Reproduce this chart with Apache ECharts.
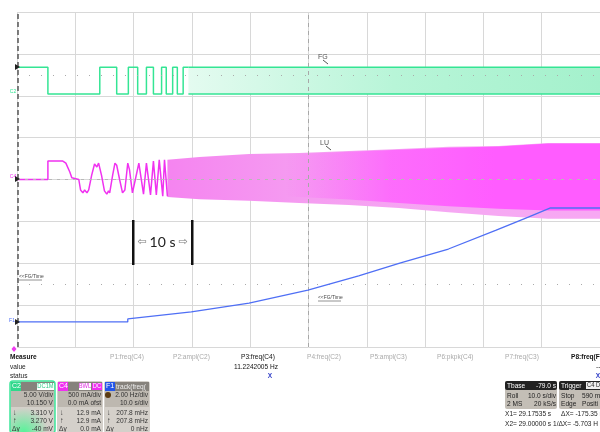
<!DOCTYPE html>
<html>
<head>
<meta charset="utf-8">
<script src="https://cdn.jsdelivr.net/npm/echarts@6/dist/echarts.min.js"></script>
<style>
  html, body { margin: 0; padding: 0; background: #fff; }
  #scope { width: 600px; height: 432px; }
</style>
</head>
<body>
<div id="scope"></div>
<script>
// time in seconds (10 s/div), level in screen divisions (0 = centre line)

// FG (C2) square wave: edge times and the level that starts at each edge
const fgEdges  = [0, 5.3, 14.2, 17.1, 19.1, 20.7, 22.2, 23.4, 24.8, 25.6, 26.7, 27.5, 28.5, 29.4];
const fgLevels = [2.68, 2.04, 2.68, 2.04, 2.68, 2.04, 2.68, 2.04, 2.68, 2.04, 2.68, 2.04, 2.68, 2.68];
// FG dense part (too fast to resolve): band limits
const fgBandT   = [29.4, 100];
const fgBandTop = [2.68, 2.68];
const fgBandBot = [2.04, 2.04];

// LU (C4) current, resolved start
const luT = [0, 5.3, 5.3, 7.86, 8.38, 9.06, 9.4, 10.6, 10.9, 11.3, 11.6, 12.0, 12.3, 12.8, 13.3, 13.7, 14.0,
             14.5, 15.0, 15.4, 15.7, 15.9, 16.4, 16.8, 17.1, 17.6, 18.1, 18.5, 19.0, 19.3, 19.8, 20.3, 20.9,
             21.7, 22.2, 22.9, 23.4, 23.9, 24.4, 25.0, 25.3, 25.8];
const luV = [0, 0, 0.44, 0.44, 0.39, 0.18, 0.04, 0, -0.25, -0.32, -0.25, -0.32, -0.25, 0.1, 0.37, 0.3, 0.39,
             0.1, -0.27, -0.35, -0.27, -0.32, 0.1, 0.39, 0.34, 0, -0.32, -0.25, 0.39, 0.23, -0.32, 0, 0.39,
             -0.35, 0.39, -0.37, 0.44, -0.37, 0.47, -0.4, 0.47, -0.4];
// LU dense envelope
const luBandT   = [25.8, 31.3, 39.8, 48.4, 56.9, 65.5, 74.0, 82.6, 91.1, 100];
const luBandTop = [0.47, 0.54, 0.61, 0.63, 0.68, 0.73, 0.78, 0.80, 0.87, 0.87];
const luBandBot = [-0.42, -0.47, -0.51, -0.56, -0.61, -0.68, -0.78, -0.87, -0.94, -0.94];
// LU saturated core
const luCoreT   = [46.0, 56.9, 65.5, 74.0, 82.6, 91.1, 100];
const luCoreTop = [0.60, 0.66, 0.71, 0.76, 0.79, 0.86, 0.86];
const luCoreBot = [-0.40, -0.48, -0.56, -0.64, -0.70, -0.74, -0.74];

// F1 = track(freq(FG))
const f1T = [-1, 0, 19.0, 19.0, 29.9, 39.8, 49.9, 58.6, 65.8, 74.0, 82.2, 87.7, 91.5, 100];
const f1V = [-3.47, -3.4, -3.4, -3.33, -3.16, -2.95, -2.64, -2.30, -1.99, -1.66, -1.21, -0.90, -0.68, -0.68];

const fgColor = '#34e594';
const luColor = '#f032f0';
const f1Color = '#4f6ff5';
const FONT = '"Liberation Sans", Arial';

function pairs(xs, ys) {
  return xs.map((x, i) => [x, ys[i]]);
}

function band(ts, tops, bots, fill) {
  return {
    type: 'custom',
    silent: true,
    clip: true,
    z: 3,
    data: [[ts[0], tops[0]]],
    renderItem: function (params, api) {
      const pts = [];
      for (let i = 0; i < ts.length; i++) pts.push(api.coord([ts[i], tops[i]]));
      for (let i = ts.length - 1; i >= 0; i--) pts.push(api.coord([ts[i], bots[i]]));
      return { type: 'polygon', shape: { points: pts }, style: { fill: fill } };
    }
  };
}

function hGrad(stops) {
  return new echarts.graphic.LinearGradient(0, 0, 1, 0, stops.map((c, i) => ({ offset: i / (stops.length - 1), color: c })));
}

// small scope text is condensed, so squeeze it horizontally
const txt = (text, x, y, opt, sx) => ({
  type: 'text', x: x, y: y, z: 100, scaleX: sx === undefined ? 0.82 : sx,
  style: Object.assign({ text: text, font: '8px ' + FONT, fill: '#222', textVerticalAlign: 'middle' }, opt || {})
});
const box = (x, y, w, h, fill, opt) => ({
  type: 'rect', z: 90, shape: Object.assign({ x: x, y: y, width: w, height: h }, opt && opt.r ? { r: opt.r } : {}),
  style: Object.assign({ fill: fill }, opt && opt.style ? opt.style : {})
});

function chanBox(x, w, rows, head) {
  const g = [];
  g.push(box(x, 381, w, 52, '#d4d0ca', { r: 3, style: { stroke: head.border, lineWidth: head.border === 'none' ? 0 : 1.5 } }));
  g.push(box(x + 1, 391, w - 2, 16, '#bdb8b0'));
  g.push(box(x + 1, 382, w - 2, 9, '#86827c'));
  g.push(box(x + 1, 382, 10, 9, head.color));
  g.push(txt(head.name, x + 2, 386.5, { fill: '#fff', font: '7px ' + FONT }, 1));
  if (head.extra) g.push(...head.extra);
  const ys = [395, 403, 413, 421, 429];
  rows.forEach((r, i) => {
    g.push(txt(r, x + w - 2, ys[i], { textAlign: 'right', fill: '#333' }));
  });
  g.push(txt('↓', x + 3, 413, { fill: '#333' }));
  g.push(txt('↑', x + 3, 421, { fill: '#333' }));
  g.push(txt('Δy', x + 2, 429, { fill: '#333' }));
  return g;
}

const graphics = [];
// trace labels
graphics.push(txt('FG', 318, 57, { font: '7px ' + FONT, fill: '#555' }, 1));
graphics.push({ type: 'line', z: 100, shape: { x1: 323, y1: 60, x2: 328, y2: 64 }, style: { stroke: '#555', lineWidth: 1 } });
graphics.push(txt('LU', 320, 143, { font: '7px ' + FONT, fill: '#555' }, 1));
graphics.push({ type: 'line', z: 100, shape: { x1: 326, y1: 146, x2: 331, y2: 150 }, style: { stroke: '#555', lineWidth: 1 } });
graphics.push(txt('<<FG/Time', 19, 276, { font: '6px ' + FONT, fill: '#444' }));
graphics.push({ type: 'line', z: 100, shape: { x1: 19, y1: 280, x2: 42, y2: 280 }, style: { stroke: '#777', lineWidth: 0.8 } });
graphics.push(txt('<<FG/Time', 318, 297, { font: '6px ' + FONT, fill: '#444' }));
graphics.push({ type: 'line', z: 100, shape: { x1: 318, y1: 301, x2: 341, y2: 301 }, style: { stroke: '#777', lineWidth: 0.8 } });
// channel markers on the left border
graphics.push(txt('C2', 13, 92, { font: '5px ' + FONT, fill: fgColor, textAlign: 'center' }, 1));
graphics.push(txt('C4', 13, 177, { font: '5px ' + FONT, fill: luColor, textAlign: 'center' }, 1));
graphics.push(txt('F1', 12, 321, { font: '5px ' + FONT, fill: f1Color, textAlign: 'center' }, 1));
[67, 179, 322].forEach(y => graphics.push({ type: 'polygon', z: 100, shape: { points: [[15, y - 3], [20, y], [15, y + 3]] }, style: { fill: '#222' } }));
graphics.push({ type: 'polygon', z: 100, shape: { points: [[14, 346], [16.5, 349], [14, 352], [11.5, 349]] }, style: { fill: '#f03cf0' } });

// 10 s annotation
graphics.push({ type: 'rect', z: 100, shape: { x: 132, y: 220, width: 2.5, height: 45 }, style: { fill: '#111' } });
graphics.push({ type: 'rect', z: 100, shape: { x: 191, y: 220, width: 2.5, height: 45 }, style: { fill: '#111' } });
graphics.push(txt('10 s', 162.5, 242, { font: '14px Lato, "Open Sans", sans-serif', fill: '#222', textAlign: 'center' }, 1));
graphics.push(txt('⇦', 142, 242, { font: '11px "DejaVu Sans"', fill: '#777', textAlign: 'center' }, 1));
graphics.push(txt('⇨', 183, 242, { font: '11px "DejaVu Sans"', fill: '#777', textAlign: 'center' }, 1));

// measurement strip
graphics.push(txt('Measure', 10, 357, { font: 'bold 8px ' + FONT, fill: '#111' }));
graphics.push(txt('value', 10, 366.5));
graphics.push(txt('status', 10, 375.5));
const pLabels = ['P1:freq(C4)', 'P2:ampl(C2)', 'P3:freq(C4)', 'P4:freq(C2)', 'P5:ampl(C3)', 'P6:pkpk(C4)', 'P7:freq(C3)', 'P8:freq(F6'];
const pX = [110, 173, 241, 307, 370, 437, 505, 571];
pLabels.forEach((p, i) => {
  const active = i === 2 || i === 7;
  graphics.push(txt(p, pX[i], 357, { fill: active ? '#111' : '#aaa', font: (i === 7 ? 'bold ' : '') + '8px ' + FONT }));
});
graphics.push(txt('11.2242005 Hz', 278, 366.5, { textAlign: 'right', fill: '#111' }));
graphics.push(txt('X', 270, 375.5, { textAlign: 'center', fill: '#3340c8', font: 'bold 8px ' + FONT }));
graphics.push(txt('---', 596, 366.5, { fill: '#111' }));
graphics.push(txt('X', 598, 375.5, { textAlign: 'center', fill: '#3340c8', font: 'bold 8px ' + FONT }));

// channel boxes
graphics.push(...chanBox(10, 45, ['5.00 V/div', '10.150 V', '3.310 V', '3.270 V', '-40 mV'], {
  name: 'C2', color: '#30d88c', border: '#3de69a',
  extra: [box(37, 383, 17, 7, '#fff'), txt('DC1M', 45.5, 386.5, { textAlign: 'center', fill: '#2cc884', font: '7px ' + FONT })]
}));
graphics.push({
  type: 'rect', z: 91, shape: { x: 11, y: 405, width: 43, height: 27 },
  style: { fill: new echarts.graphic.RadialGradient(0.3, 1, 0.9, [{ offset: 0, color: 'rgba(80,245,150,0.95)' }, { offset: 1, color: 'rgba(80,245,150,0)' }]) }
});
graphics.push(...chanBox(57, 46, ['500 mA/div', '0.0 mA ofst', '12.9 mA', '12.9 mA', '0.0 mA'], {
  name: 'C4', color: '#f030f0', border: 'none',
  extra: [box(79, 383, 12, 7, '#fff'), txt('BWL', 85, 386.5, { textAlign: 'center', fill: '#e030e0', font: '7px ' + FONT }),
          box(92, 383, 10, 7, '#f030f0'), txt('DC', 97, 386.5, { textAlign: 'center', fill: '#fff', font: '7px ' + FONT })]
}));
graphics.push(...chanBox(104, 46, ['2.00 Hz/div', '10.0 s/div', '207.8 mHz', '207.8 mHz', '0 nHz'], {
  name: 'F1', color: '#2456e8', border: 'none',
  extra: [txt('track(freq(', 116, 386.5, { fill: '#eee', font: '8px ' + FONT }),
          { type: 'circle', z: 100, shape: { cx: 108, cy: 395, r: 3 }, style: { fill: '#5a3a10' } }]
}));

// timebase / trigger boxes
graphics.push(box(505, 381, 52, 28, '#c3beb6', { r: 2 }));
graphics.push(box(505, 381, 52, 9, '#222', { r: 2 }));
graphics.push(txt('Tbase', 507, 385.5, { fill: '#fff' }));
graphics.push(txt('-79.0 s', 556, 385.5, { fill: '#fff', textAlign: 'right' }));
graphics.push(txt('Roll', 507, 396));
graphics.push(txt('10.0 s/div', 556, 396, { textAlign: 'right' }));
graphics.push(txt('2 MS', 507, 404));
graphics.push(txt('20 kS/s', 556, 404, { textAlign: 'right' }));
graphics.push(box(559, 381, 45, 28, '#c3beb6', { r: 2 }));
graphics.push(box(559, 381, 45, 9, '#222', { r: 2 }));
graphics.push(txt('Trigger', 561, 385.5, { fill: '#fff' }));
graphics.push(box(586, 382, 16, 7, '#eee'));
graphics.push(txt('C4 DC', 587, 385.5, { fill: '#222', font: '7px ' + FONT }));
graphics.push(txt('Stop', 561, 396));
graphics.push(txt('590 m', 582, 396));
graphics.push(txt('Edge', 561, 404));
graphics.push(txt('Positi', 582, 404));
graphics.push(txt('X1= 29.17535 s', 505, 413.5));
graphics.push(txt('ΔX= -175.35 m', 561, 413.5));
graphics.push(txt('X2= 29.00000 s', 505, 423.5));
graphics.push(txt('1/ΔX= -5.703 H', 553, 423.5));

const chart = echarts.init(document.getElementById('scope'));
chart.setOption({
  animation: false,
  backgroundColor: '#fff',
  grid: { left: 17, top: 12, width: 585, height: 335 },
  xAxis: {
    type: 'value', min: 0, max: 100, interval: 10,
    axisLine: { show: false }, axisTick: { show: false }, axisLabel: { show: false },
    splitLine: { show: true, lineStyle: { color: '#d8d8d8', width: 1 } }
  },
  yAxis: {
    type: 'value', min: -4, max: 4, interval: 1,
    axisLine: { show: false }, axisTick: { show: false }, axisLabel: { show: false },
    splitLine: { show: true, lineStyle: { color: '#d8d8d8', width: 1 } }
  },
  graphic: graphics,
  series: [
    {
      type: 'line', silent: true, data: [], z: 1,
      markLine: {
        silent: true, symbol: 'none', label: { show: false },
        data: [
          { yAxis: 2.5, lineStyle: { type: [1, 11], color: '#aaa', width: 1 } },
          { yAxis: -2.5, lineStyle: { type: [1, 11], color: '#aaa', width: 1 } },
          { yAxis: 0, lineStyle: { type: [3, 5], color: '#b8b8b8', width: 1 } },
          { xAxis: 50, lineStyle: { type: [4, 4], color: '#a8a8a8', width: 1 } },
          { xAxis: 0.05, lineStyle: { type: [5, 3], color: '#555', width: 1.5 } }
        ]
      }
    },
    band(fgBandT, fgBandTop, fgBandBot, hGrad(['#e4fbf0', '#b8f5d8', '#a4f1cc'])),
    {
      type: 'line', step: 'end', showSymbol: false, silent: true, z: 4,
      data: pairs(fgEdges, fgLevels),
      lineStyle: { color: fgColor, width: 1.5 }
    },
    {
      type: 'line', showSymbol: false, silent: true, z: 4,
      data: pairs(fgBandT, fgBandTop),
      lineStyle: { color: fgColor, width: 1.5 }
    },
    {
      type: 'line', showSymbol: false, silent: true, z: 4,
      data: pairs(fgBandT, fgBandBot),
      lineStyle: { color: fgColor, width: 1.5 }
    },
    band(luBandT, luBandTop, luBandBot, hGrad(['#f584f0', '#f59ef1', '#f6a8f3', '#f7a8f3'])),
    band(luCoreT, luCoreTop, luCoreBot, hGrad(['rgba(255,90,255,0)', 'rgba(255,90,255,0.75)', '#ff5cff', '#ff5cff'])),
    {
      type: 'line', showSymbol: false, silent: true, z: 4,
      data: pairs(luT, luV),
      lineStyle: { color: luColor, width: 1.5 }
    },
    {
      type: 'line', showSymbol: false, silent: true, z: 5, clip: false,
      data: pairs(f1T, f1V),
      lineStyle: { color: f1Color, width: 1.3 }
    }
  ]
});
</script>
</body>
</html>
